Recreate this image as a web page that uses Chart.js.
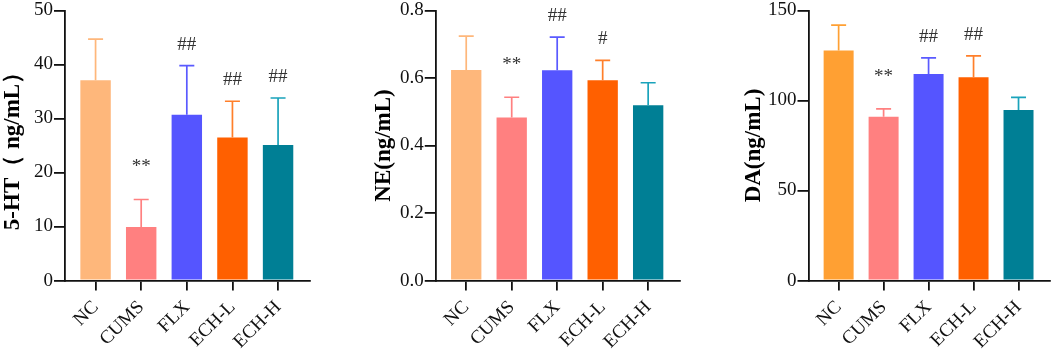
<!DOCTYPE html>
<html>
<head>
<meta charset="utf-8">
<script src="https://cdn.jsdelivr.net/npm/chart.js@4"></script>
<style>
  html, body { margin: 0; padding: 0; background: #fff; }
  #wrap { position: relative; width: 1052px; height: 350px; }
  .panel { position: absolute; top: 0; height: 350px; }
</style>
</head>
<body>
<div id="wrap">
  <div class="panel" style="left:0;width:350px"><canvas id="c1"></canvas></div>
  <div class="panel" style="left:350px;width:350px"><canvas id="c2"></canvas></div>
  <div class="panel" style="left:700px;width:352px"><canvas id="c3"></canvas></div>
</div>
<script>
// ---- data ----
const categories = ['NC', 'CUMS', 'FLX', 'ECH-L', 'ECH-H'];

const htMean = [37.1, 9.9, 30.7, 26.5, 25.1];
const htSD   = [7.6, 5.1, 9.1, 6.7, 8.7];
const htSig  = ['', '**', '##', '##', '##'];

const neMean = [0.624, 0.483, 0.623, 0.593, 0.519];
const neSD   = [0.100, 0.060, 0.098, 0.059, 0.067];
const neSig  = ['', '**', '##', '#', ''];

const daMean = [127.8, 91.0, 114.7, 112.9, 94.7];
const daSD   = [14.1, 4.4, 9.0, 11.9, 7.0];
const daSig  = ['', '**', '##', '##', ''];

const htTicks = [0, 10, 20, 30, 40, 50];
const neTicks = [0.0, 0.2, 0.4, 0.6, 0.8];
const daTicks = [0, 50, 100, 150];

// ---- styles ----
const FONT = "'Liberation Serif', 'Times New Roman', serif";
const AXIS = '#111';
const barColors1 = ['#FEB77B', '#FF8080', '#5555FF', '#FF6000', '#007F95'];
const errColors1 = ['#FEB77B', '#FF8080', '#5A5AFF', '#FF7F2A', '#1AA3BB'];
const barColors3 = ['#FFA033', '#FF8080', '#5555FF', '#FF6000', '#007F95'];
const errColors3 = ['#FFA033', '#FF8080', '#5A5AFF', '#FF7F2A', '#1AA3BB'];

const errorBarPlugin = {
  id: 'errorBars',
  afterDatasetsDraw(chart) {
    const o = chart.options.plugins.errorBars;
    const ctx = chart.ctx, xs = chart.scales.x, ys = chart.scales.y;
    ctx.save();
    o.mean.forEach((m, i) => {
      const x = xs.getPixelForValue(i);
      const yb = ys.getPixelForValue(m);
      const yt = ys.getPixelForValue(m + o.sd[i]);
      ctx.strokeStyle = o.colors[i];
      ctx.lineWidth = 1.7;
      ctx.beginPath();
      ctx.moveTo(x, yb); ctx.lineTo(x, yt);
      ctx.moveTo(x - 7.5, yt); ctx.lineTo(x + 7.5, yt);
      ctx.stroke();
      const s = o.sig[i];
      if (s) {
        ctx.fillStyle = '#333';
        ctx.font = '19px ' + FONT;
        ctx.textAlign = 'center';
        ctx.textBaseline = 'middle';
        const off = s === '**' ? 32 : 21;
        ctx.fillText(s, x, yt - off);
      }
    });
    ctx.restore();
  }
};

function makeChart(id, mean, sd, sig, ticks, title, barColors, errColors, pad, titlePad, fmt) {
  const data = categories.map((c, i) => ({ x: i, y: mean[i] }));
  return new Chart(document.getElementById(id), {
    type: 'bar',
    data: {
      datasets: [{
        data: data,
        backgroundColor: barColors,
        borderWidth: 0,
        barPercentage: 0.667,
        categoryPercentage: 1.0
      }]
    },
    options: {
      responsive: true,
      maintainAspectRatio: false,
      animation: false,
      layout: { padding: pad },
      plugins: {
        legend: { display: false },
        tooltip: { enabled: false },
        errorBars: { mean: mean, sd: sd, sig: sig, colors: errColors }
      },
      scales: {
        x: {
          type: 'linear',
          min: -0.67,
          max: 4.7,
          offset: false,
          afterBuildTicks(scale) { scale.ticks = categories.map((c, i) => ({ value: i })); },
          ticks: {
            callback: (v) => categories[v],
            font: { family: FONT, size: 19, lineHeight: 1 },
            color: AXIS,
            minRotation: 45,
            maxRotation: 45,
            padding: 7,
            autoSkip: false
          },
          grid: { display: true, offset: false, drawOnChartArea: false, drawTicks: true, tickLength: 10, color: AXIS, lineWidth: 1.8 },
          border: { display: true, color: AXIS, width: 1.8 }
        },
        y: {
          min: ticks[0],
          max: ticks[ticks.length - 1],
          afterBuildTicks(scale) { scale.ticks = ticks.map(v => ({ value: v })); },
          ticks: {
            callback: fmt,
            font: { family: FONT, size: 19, lineHeight: 1 },
            color: AXIS,
            padding: 1
          },
          grid: { display: true, drawOnChartArea: false, drawTicks: true, tickLength: 11, color: AXIS, lineWidth: 1.8 },
          border: { display: true, color: AXIS, width: 1.8 },
          title: {
            display: true,
            text: title,
            font: { family: FONT, size: 23, weight: 'bold', lineHeight: 1 },
            color: '#000',
            padding: { top: 0, bottom: titlePad }
          }
        }
      }
    },
    plugins: [errorBarPlugin]
  });
}

makeChart('c1', htMean, htSD, htSig, htTicks, '5-HT（ ng/mL）', barColors1, errColors1,
  { left: 2, right: 40, top: -2, bottom: -9 }, 8, v => String(v));
makeChart('c2', neMean, neSD, neSig, neTicks, 'NE(ng/mL)', barColors1, errColors1,
  { left: 23, right: 20, top: -2, bottom: -9 }, 3, v => Number(v).toFixed(1));
makeChart('c3', daMean, daSD, daSig, daTicks, 'DA(ng/mL)', barColors3, errColors3,
  { left: 43, right: 2, top: -2, bottom: -9 }, 1, v => String(v));
</script>
</body>
</html>
